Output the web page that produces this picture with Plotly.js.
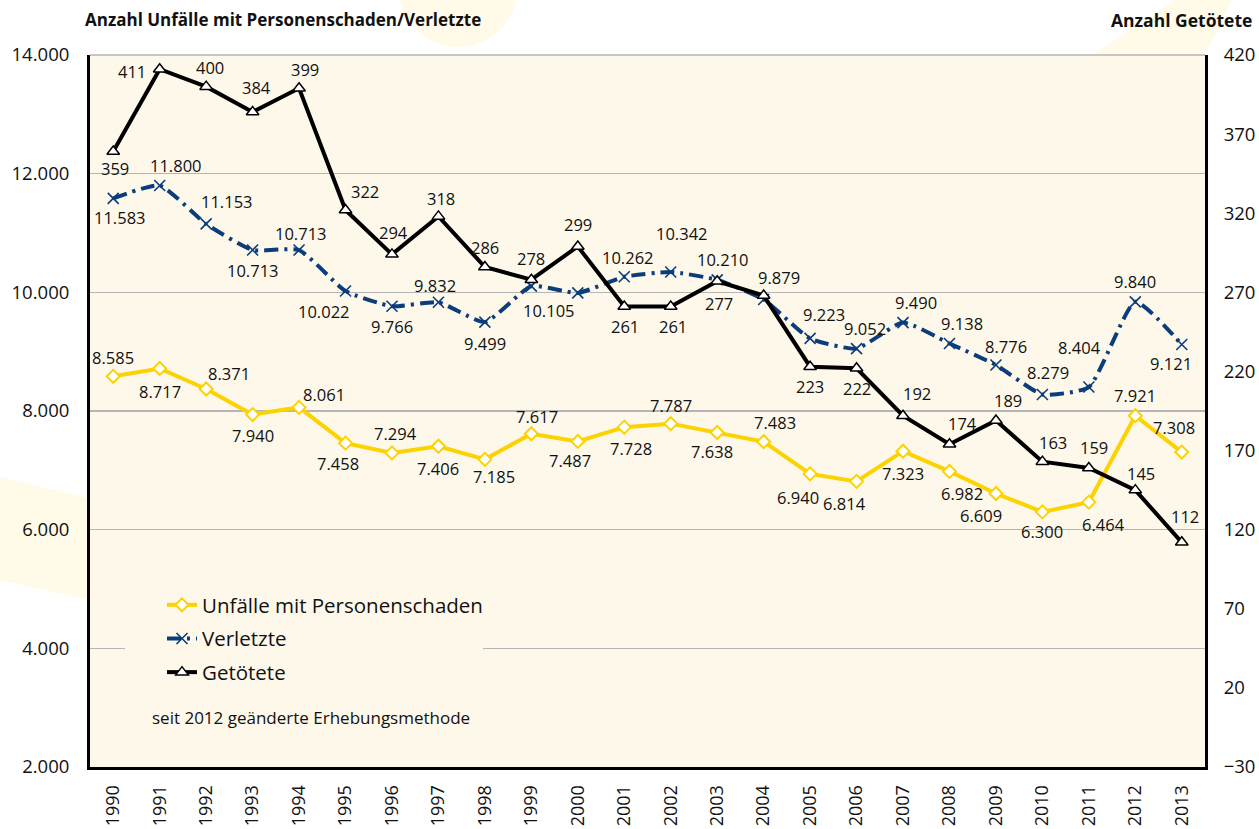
<!DOCTYPE html>
<html>
<head>
<meta charset="utf-8">
<script src="https://cdn.plot.ly/plotly-3.0.1.min.js"></script>
<style>
html,body{margin:0;padding:0;background:#fff;}
#chart{width:1259px;height:829px;}
</style>
</head>
<body>
<div id="chart"></div>
<script>
// ---- data ----
const years = ['1990','1991','1992','1993','1994','1995','1996','1997','1998','1999','2000','2001','2002','2003','2004','2005','2006','2007','2008','2009','2010','2011','2012','2013'];
const unfaelle = [8585,8717,8371,7940,8061,7458,7294,7406,7185,7617,7487,7728,7787,7638,7483,6940,6814,7323,6982,6609,6300,6464,7921,7308];
const verletzte = [11583,11800,11153,10713,10713,10022,9766,9832,9499,10105,9990,10262,10342,10210,9879,9223,9052,9490,9138,8776,8279,8404,9840,9121];
const getoetete = [359,411,400,384,399,322,294,318,286,278,299,261,261,277,268,223,222,192,174,189,163,159,145,112];
const verletzteUnlabeled = ['2000'];
const getoeteteUnlabeled = ['2004'];
const leftTicks = [2000,4000,6000,8000,10000,12000,14000];
const rightTicks = [-30,20,70,120,170,220,270,320,370,420];

// ---- label offsets in pixels [dx, dy] (style only; dy positive = downwards) ----
const offU = [[0,-19],[0,23],[23,-15],[0,21],[25,-13],[-8,20],[4,-19],[0,22],[9,17],[6,-17],[-8,19],[7,21],[0,-18],[-5,19],[11,-19],[-12,24],[-12,22],[0,22],[13,22],[-15,22],[0,20],[15,22],[0,-20],[-8,-25]];
const offV = [[7,19],[16,-20],[21,-22],[0,20],[2,-17],[-22,20],[0,20],[-3,-17],[0,21],[18,24],[0,0],[4,-19],[11,-39],[6,-20],[15,-22],[14,-24],[8,-20],[13,-20],[13,-20],[10,-18],[6,-22],[-9,-40],[0,-20],[-11,19]];
const offG = [[2,17],[-28,2],[4,-19],[4,-24],[6,-19],[19,-19],[2,-22],[3,-18],[0,-20],[0,-21],[0,-22],[1,20],[2,20],[2,22],[0,0],[0,20],[0,20],[14,-22],[13,-21],[12,-20],[11,-19],[5,-20],[6,-17],[3,-26]];

const fmt = v => String(v).replace(/\B(?=(\d{3})+(?!\d))/g, '.');
const FONT = '"Open Sans", "Noto Sans", sans-serif';
const YEL = '#fcd200', BLU = '#0b3d7d', BLK = '#000000';
const PLOTBG = '#fdf8e9';
const LABELFONT = {family: FONT, size: 16.5, color: '#111'};

const traces = [
  {
    x: years, y: unfaelle, name: 'Unfälle mit Personenschaden', legendgroup: 'a',
    mode: 'lines+markers', type: 'scatter',
    line: {color: YEL, width: 4},
    marker: {symbol: 'diamond', size: 10, color: '#ffffff', line: {color: YEL, width: 2}},
    cliponaxis: false
  },
  {
    x: years, y: verletzte, name: 'Verletzte', legendgroup: 'b',
    mode: 'lines+markers', type: 'scatter',
    line: {color: BLU, width: 4, dash: '14px,6px,3px,6px', shape: 'spline', smoothing: 0.5},
    marker: {symbol: 'x-thin', size: 11, color: BLU, line: {color: BLU, width: 1.6}},
    cliponaxis: false
  },
  {
    x: years, y: getoetete, name: 'Getötete', legendgroup: 'c', yaxis: 'y2',
    mode: 'lines+markers', type: 'scatter',
    line: {color: BLK, width: 4},
    marker: {symbol: 'triangle-up', size: 11, color: '#ffffff', line: {color: BLK, width: 1.5}},
    cliponaxis: false
  }
];

// data labels as annotations anchored to data coordinates (x = category index)
function labels(vals, offs, yref, skip) {
  const out = [];
  vals.forEach((v, i) => {
    if (skip.includes(years[i])) return;
    out.push({
      text: fmt(v), x: i, y: v, xref: 'x', yref: yref,
      xshift: offs[i][0], yshift: -offs[i][1],
      xanchor: 'center', yanchor: 'middle', showarrow: false, font: LABELFONT
    });
  });
  return out;
}

// paper coordinate helpers for decorative background shapes
const L = 90, R = 1205, T = 55, B = 767;
const px = v => (v - L) / (R - L);
const py = v => (B - v) / (B - T);
const poly = pts => 'M ' + pts.map(p => px(p[0]).toFixed(4) + ',' + py(p[1]).toFixed(4)).join(' L ') + ' Z';
const DECO = '#fffbe8';

const layout = {
  width: 1259, height: 829,
  margin: {l: L, r: 1259 - R, t: T, b: 829 - B, pad: 0},
  paper_bgcolor: '#ffffff',
  plot_bgcolor: PLOTBG,
  separators: ',.',
  font: {family: FONT, size: 18, color: '#111'},
  showlegend: true,
  legend: {
    x: px(162), xanchor: 'left', y: py(585), yanchor: 'top',
    bgcolor: 'rgba(0,0,0,0)', borderwidth: 0,
    font: {family: FONT, size: 20.5, color: '#111'},
    traceorder: 'grouped', tracegroupgap: 4
  },
  xaxis: {
    type: 'category', range: [-0.5, 23.5],
    tickangle: -90, tickfont: {family: FONT, size: 18, color: '#111'},
    showline: true, linecolor: '#000', linewidth: 3,
    showgrid: false, zeroline: false,
    ticks: 'outside', ticklen: 8, tickcolor: 'rgba(0,0,0,0)', fixedrange: true
  },
  yaxis: {
    range: [2000, 14000], tickvals: leftTicks, tickformat: ',',
    tickfont: {family: FONT, size: 18.5, color: '#111'},
    showline: true, linecolor: '#000', linewidth: 3,
    showgrid: true, gridcolor: '#b5b5b5', gridwidth: 1.5,
    zeroline: false, ticks: 'outside', ticklen: 14, tickcolor: 'rgba(0,0,0,0)', fixedrange: true
  },
  yaxis2: {
    range: [-30, 420], tickvals: rightTicks, overlaying: 'y', side: 'right',
    tickfont: {family: FONT, size: 18.5, color: '#111'},
    showline: true, linecolor: '#000', linewidth: 3,
    showgrid: false, zeroline: false,
    ticks: 'outside', ticklen: 12, tickcolor: 'rgba(0,0,0,0)', fixedrange: true
  },
  shapes: [
    {type: 'circle', xref: 'paper', yref: 'paper', x0: px(398), x1: px(518), y0: py(47), y1: py(-73), fillcolor: DECO, line: {width: 0}, layer: 'below'},
    {type: 'path', xref: 'paper', yref: 'paper', path: poly([[1175,0],[1232,0],[1205,55],[1093,55]]), fillcolor: DECO, line: {width: 0}, layer: 'below'},
    {type: 'path', xref: 'paper', yref: 'paper', path: poly([[0,477],[88,498],[88,600],[0,580]]), fillcolor: DECO, line: {width: 0}, layer: 'below'},
    {type: 'line', xref: 'paper', yref: 'paper', x0: 0, x1: 1, y0: 1, y1: 1, line: {color: '#b5b5b5', width: 1.5}, layer: 'below'},
    // legend backdrop interrupting the 4.000 gridline
    {type: 'rect', xref: 'paper', yref: 'paper', x0: px(125), x1: px(483), y0: py(660), y1: py(640), fillcolor: PLOTBG, line: {width: 0}, layer: 'above'}
  ],
  annotations: [
    {text: '<b>Anzahl Unfälle mit Personenschaden/Verletzte</b>', xref: 'paper', yref: 'paper', x: px(83), y: py(20), xanchor: 'left', yanchor: 'middle', showarrow: false, font: {family: FONT, size: 17, color: '#111'}},
    {text: '<b>Anzahl Getötete</b>', xref: 'paper', yref: 'paper', x: px(1254), y: py(20), xanchor: 'right', yanchor: 'middle', showarrow: false, font: {family: FONT, size: 17.5, color: '#111'}},
    {text: 'seit 2012 geänderte Erhebungsmethode', xref: 'paper', yref: 'paper', x: px(150), y: py(717), xanchor: 'left', yanchor: 'middle', showarrow: false, font: {family: FONT, size: 17, color: '#111'}}
  ]
    .concat(labels(unfaelle, offU, 'y', []))
    .concat(labels(verletzte, offV, 'y', verletzteUnlabeled))
    .concat(labels(getoetete, offG, 'y2', getoeteteUnlabeled))
};

Plotly.newPlot('chart', traces, layout, {displayModeBar: false, staticPlot: true});
</script>
</body>
</html>
